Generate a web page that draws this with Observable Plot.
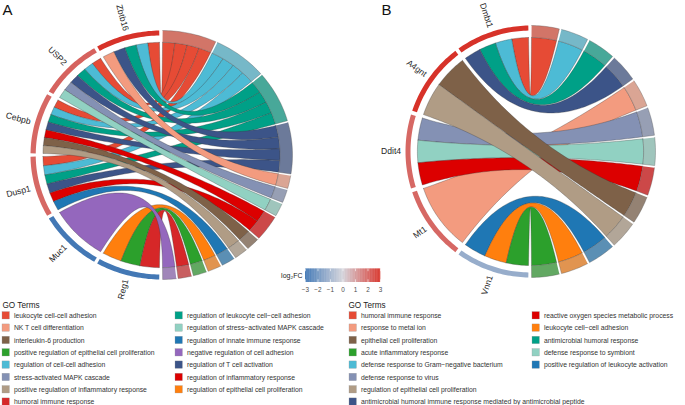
<!DOCTYPE html>
<html><head><meta charset="utf-8">
<script src="https://cdn.jsdelivr.net/npm/d3@7"></script>
<script src="https://cdn.jsdelivr.net/npm/@observablehq/plot@0.6"></script>
<style>body{margin:0;background:#fff;}#chart svg{display:block;}</style>
</head><body><div id="chart"></div>
<script>
// ---------------- DATA: panel A ----------------
const genesA = ["Zbtb16", "USP2", "Cebpb", "Dusp1", "Muc1", "Reg1"];
const logFCA = [3.0, 2.1, 2.0, 2.0, -2.9, -2.9];
const termsA = [
  "leukocyte cell-cell adhesion",
  "regulation of cell-cell adhesion",
  "regulation of leukocyte cell\u2212cell adhesion",
  "regulation of T cell activation",
  "NK T cell differentiation",
  "stress-activated MAPK cascade",
  "regulation of stress\u2212activated MAPK cascade",
  "regulation of inflammatory response",
  "interleukin-6 production",
  "positive regulation of inflammatory response",
  "regulation of innate immune response",
  "regulation of epithelial cell proliferation",
  "positive regulation of epithelial cell proliferation",
  "humoral immune response",
  "negative regulation of cell adhesion"
];
const paletteA = ["#E64B35","#4DBBD5","#00A087","#3C5488","#F39B7F","#8491B4","#91D1C2","#DC0000","#7E6148","#B09C85","#1F77B4","#FF7F0E","#2CA02C","#D62728","#9467BD"];
// terms (by index in termsA) that each gene belongs to
const geneTermsA = [[0,1,2,3,4],[0,1,2,3,5,6],[0,1,2,3,7,8,9],[0,1,2,3,7,10],[14],[11,12,13]];
const legendOrderA = [0,4,8,12,1,5,9,13,2,6,10,14,3,7,11];

// ---------------- DATA: panel B ----------------
const genesB = ["Dmbt1", "A4gnt", "Ddit4", "Mt1", "Vnn1"];
const logFCB = [3.0, 3.0, 2.0, 2.0, -1.2];
const termsB = [
  "humoral immune response",
  "defense response to Gram\u2212negative bacterium",
  "antimicrobial humoral response",
  "antimicrobial humoral immune response mediated by antimicrobial peptide",
  "response to metal ion",
  "defense response to virus",
  "defense response to symbiont",
  "reactive oxygen species metabolic process",
  "epithelial cell proliferation",
  "regulation of epithelial cell proliferation",
  "positive regulation of leukocyte activation",
  "leukocyte cell\u2212cell adhesion",
  "acute inflammatory response"
];
const paletteB = ["#E64B35","#4DBBD5","#00A087","#3C5488","#F39B7F","#8491B4","#91D1C2","#DC0000","#7E6148","#B09C85","#1F77B4","#FF7F0E","#2CA02C"];
const geneTermsB = [[0,1,2,3],[8,9],[5,6,7],[4],[10,11,12]];
const legendOrderB = [0,4,8,12,1,5,9,3,7,11,2,6,10];

// colour bar ticks
const lfcTicks = [-3, -2, -1, 0, 1, 2, 3];

// ---------------- LAYOUT ----------------
const W = 685, H = 405;
const layoutA = {cx: 161, cy: 154.5, rx: 131, ry: 124.5, geneStart: 1.0, geneGap: 1.5, termStart: 0.5, termGap: 0.8};
const layoutB = {cx: 530, cy: 151, rx: 125, ry: 126, geneStart: 1.0, geneGap: 1.8, termStart: 0.5, termGap: 1.0};
const R_RIB = 0.905, R_GIN = 0.96, R_OUT = 1.0, R_LAB = 1.035;

const lfcScale = Plot.scale({color: {type: "linear", domain: [-3, 0, 3], range: ["#3E75B4", "#D3D3DA", "#D73229"], interpolate: "rgb"}});
const mute = c => d3.interpolateRgb(c, "#b4b4b4")(0.4);

function buildPanel(L, name, genes, lfc, terms, palette, geneTerms) {
  const rad = Math.PI / 180;
  const pt = (a, r) => [L.cx + L.rx * r * Math.cos(a * rad), L.cy - L.ry * r * Math.sin(a * rad)];
  const arc = (a0, a1, r) => {
    const n = Math.max(2, Math.ceil(Math.abs(a1 - a0) / 1.2));
    return d3.range(n + 1).map(i => pt(a0 + (a1 - a0) * i / n, r));
  };
  const bez = (a0, a1, r) => {
    const [x0, y0] = pt(a0, r), [x2, y2] = pt(a1, r);
    return d3.range(61).map(i => { const s = i / 60, u = 1 - s;
      return [u*u*x0 + 2*u*s*L.cx + s*s*x2, u*u*y0 + 2*u*s*L.cy + s*s*y2]; });
  };
  const nG = genes.length, nT = terms.length;
  const termGenes = terms.map((_, t) => d3.range(nG).filter(g => geneTerms[g].includes(t)));
  const units = d3.sum(termGenes, d => d.length);
  const u = (180 - 2 * L.termStart - (nT - 1) * L.termGap) / units;
  const gw = (180 - 2 * L.geneStart - (nG - 1) * L.geneGap) / nG;
  const geneSeg = genes.map((g, i) => { const a0 = 90 + L.geneStart + i * (gw + L.geneGap); return [a0, a0 + gw]; });
  let cur = 90 - L.termStart;
  const termSeg = termGenes.map(list => { const hi = cur, lo = cur - list.length * u; cur = lo - L.termGap; return [hi, lo]; });

  const ribbons = [], bands = [], arcs = [], labels = [];
  termGenes.forEach((list, t) => {
    list.forEach((g, k) => {
      const gt = [...geneTerms[g]].sort((a, b) => a - b);
      const sw = gw / gt.length, j = gt.indexOf(t);
      const g0 = geneSeg[g][0] + j * sw, g1 = g0 + sw;
      const t1 = termSeg[t][0] - k * u, t0 = t1 - u;
      const pts = [...arc(g0, g1, R_RIB), ...bez(g1, t0, R_RIB), ...arc(t0, t1, R_RIB), ...bez(t1, g0, R_RIB)];
      const id = `${name}-r-${t}-${g}`;
      pts.forEach(([x, y]) => ribbons.push({id, x, y, fill: palette[t]}));
    });
    const [hi, lo] = termSeg[t];
    const id = `${name}-t-${t}`;
    [...arc(hi, lo, R_OUT), ...arc(lo, hi, R_RIB)].forEach(([x, y]) => bands.push({id, x, y, fill: mute(palette[t])}));
  });
  genes.forEach((g, i) => {
    const [a0, a1] = geneSeg[i];
    const id = `${name}-g-${i}`, fill = lfcScale.apply(lfc[i]);
    [...arc(a0, a1, R_OUT), ...arc(a1, a0, R_GIN)].forEach(([x, y]) => arcs.push({id, x, y, fill}));
    const am = (a0 + a1) / 2;
    const [x, y] = pt(am, R_LAB);
    let rot = -(am + 180);
    while (rot <= -180) rot += 360;
    labels.push({x, y, text: g, rotate: rot});
  });
  return {ribbons, bands, arcs, labels};
}

const pA = buildPanel(layoutA, "A", genesA, logFCA, termsA, paletteA, geneTermsA);
const pB = buildPanel(layoutB, "B", genesB, logFCB, termsB, paletteB, geneTermsB);

// colour bar
const cb = {x0: 305, x1: 380, y0: 268.5, y1: 282};
const cbX = v => cb.x0 + (v + 3) / 6 * (cb.x1 - cb.x0);
const cbStep = 0.05;
const cbRects = d3.range(-3, 3 - 1e-9, cbStep).map(v => ({x1: cbX(v), x2: cbX(v + cbStep) + 0.3, fill: lfcScale.apply(v + cbStep / 2)}));
const cbTickRows = lfcTicks.map(v => ({x: cbX(v), label: v < 0 ? "\u2212" + Math.abs(v) : String(v)}));

// legends
const leg = {rowY0: 315.3, rowStep: 12.33, sw: 7.4, perCol: 8};
function legendRows(order, terms, palette, colX) {
  return order.map((t, i) => {
    const col = Math.floor(i / leg.perCol), row = i % leg.perCol;
    const y = leg.rowY0 + row * leg.rowStep;
    return {x: colX[col], y, label: terms[t], fill: palette[t]};
  });
}
const legA = legendRows(legendOrderA, termsA, paletteA, [2, 175]);
const legB = legendRows(legendOrderB, termsB, paletteB, [349, 532]);
const legAll = [...legA, ...legB];
const titles = [{x: 2, y: 305, text: "GO Terms"}, {x: 348, y: 305, text: "GO Terms"}];
const panelLetters = [{x: 2, y: 10, text: "A"}, {x: 381, y: 9.5, text: "B"}];

const ribbonOpts = {x: "x", y: "y", z: "id", fill: "fill", stroke: "#333", strokeWidth: 0.35, strokeOpacity: 0.9};
const chart = Plot.plot({
  width: W, height: H, margin: 0,
  x: {domain: [0, W], range: [0, W], axis: null},
  y: {domain: [0, H], range: [0, H], axis: null},
  color: {type: "identity"},
  style: {fontFamily: "'Liberation Sans', Arial, Helvetica, sans-serif", background: "#fff", overflow: "visible"},
  marks: [
    Plot.line(pA.arcs, {x: "x", y: "y", z: "id", fill: "fill", stroke: null}),
    Plot.line(pB.arcs, {x: "x", y: "y", z: "id", fill: "fill", stroke: null}),
    Plot.line(pA.ribbons, ribbonOpts),
    Plot.line(pB.ribbons, ribbonOpts),
    Plot.line(pA.bands, {x: "x", y: "y", z: "id", fill: "fill", stroke: "#555", strokeWidth: 0.35}),
    Plot.line(pB.bands, {x: "x", y: "y", z: "id", fill: "fill", stroke: "#555", strokeWidth: 0.35}),
    Plot.text([...pA.labels, ...pB.labels], {x: "x", y: "y", text: "text", rotate: "rotate", textAnchor: "end", fontSize: 8.6, fill: "#262626"}),
    Plot.text(panelLetters, {x: "x", y: "y", text: "text", textAnchor: "start", fontSize: 15, fill: "#111"}),
    // colour bar
    Plot.rect(cbRects, {x1: "x1", x2: "x2", y1: cb.y0, y2: cb.y1, fill: "fill"}),
    Plot.ruleX(cbTickRows, {x: "x", y1: cb.y0, y2: cb.y0 + 2.7, stroke: "white", strokeWidth: 0.6}),
    Plot.ruleX(cbTickRows, {x: "x", y1: cb.y1 - 2.7, y2: cb.y1, stroke: "white", strokeWidth: 0.6}),
    Plot.text(cbTickRows, {x: "x", y: 289, text: "label", fontSize: 6.4, fill: "#4d4d4d"}),
    Plot.text([{x: 302, y: 275.5, t: "log\u2082FC"}], {x: "x", y: "y", text: "t", textAnchor: "end", fontSize: 7, fill: "#222"}),
    // legends
    Plot.text(titles, {x: "x", y: "y", text: "text", textAnchor: "start", fontSize: 8.2, fill: "#222"}),
    Plot.rect(legAll, {x1: "x", x2: d => d.x + leg.sw, y1: d => d.y - leg.sw / 2, y2: d => d.y + leg.sw / 2, fill: "fill", stroke: "#9a9a9a", strokeWidth: 0.3}),
    Plot.text(legAll, {x: d => d.x + leg.sw + 4, y: "y", text: "label", textAnchor: "start", fontSize: 6.8, fill: "#333"})
  ]
});
document.getElementById("chart").appendChild(chart);
</script>
</body></html>
